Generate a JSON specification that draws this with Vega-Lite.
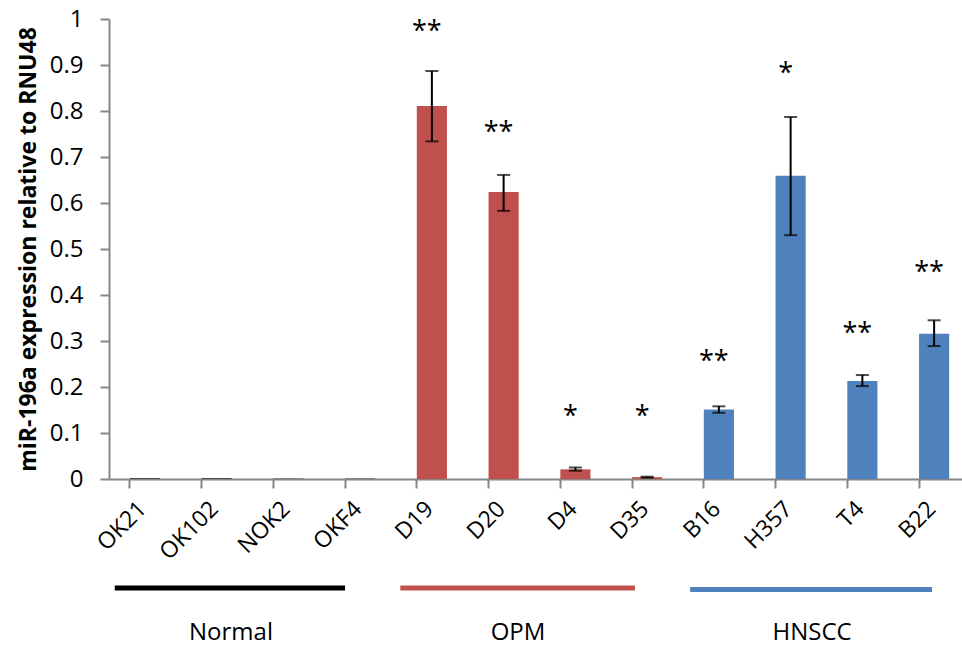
{
  "$schema": "https://vega.github.io/schema/vega-lite/v6.json",
  "width": 853,
  "height": 460,
  "autosize": {"type": "none"},
  "padding": {"left": 109, "top": 19, "right": 0, "bottom": 167},
  "config": {"view": {"stroke": null}, "font": "Open Sans", "axis": {"grid": false}},
  "datasets": {
    "bars": [
      {"name": "OK21", "group": "Normal", "val": 0.002, "lo": null, "hi": null, "star": "", "stary": null},
      {"name": "OK102", "group": "Normal", "val": 0.002, "lo": null, "hi": null, "star": "", "stary": null},
      {"name": "NOK2", "group": "Normal", "val": 0.001, "lo": null, "hi": null, "star": "", "stary": null},
      {"name": "OKF4", "group": "Normal", "val": 0.001, "lo": null, "hi": null, "star": "", "stary": null},
      {"name": "D19", "group": "OPM", "val": 0.811, "lo": 0.734, "hi": 0.887, "star": "**", "stary": 0.985},
      {"name": "D20", "group": "OPM", "val": 0.624, "lo": 0.583, "hi": 0.661, "star": "**", "stary": 0.766},
      {"name": "D4", "group": "OPM", "val": 0.021, "lo": 0.018, "hi": 0.025, "star": "*", "stary": 0.148},
      {"name": "D35", "group": "OPM", "val": 0.004, "lo": 0.003, "hi": 0.005, "star": "*", "stary": 0.148},
      {"name": "B16", "group": "HNSCC", "val": 0.151, "lo": 0.144, "hi": 0.158, "star": "**", "stary": 0.268},
      {"name": "H357", "group": "HNSCC", "val": 0.659, "lo": 0.530, "hi": 0.787, "star": "*", "stary": 0.893},
      {"name": "T4", "group": "HNSCC", "val": 0.213, "lo": 0.202, "hi": 0.226, "star": "**", "stary": 0.329},
      {"name": "B22", "group": "HNSCC", "val": 0.316, "lo": 0.289, "hi": 0.345, "star": "**", "stary": 0.46}
    ],
    "groups": [
      {"group": "Normal", "x1": 0.08, "x2": 3.29, "xc": 1.7, "ly": -0.237, "ty": -0.335},
      {"group": "OPM", "x1": 4.06, "x2": 7.33, "xc": 5.7, "ly": -0.237, "ty": -0.335},
      {"group": "HNSCC", "x1": 8.1, "x2": 11.47, "xc": 9.8, "ly": -0.24, "ty": -0.335}
    ]
  },
  "resolve": {"scale": {"x": "independent", "color": "independent"}, "axis": {"x": "independent"}},
  "layer": [
    {
      "data": {"name": "bars"},
      "mark": {"type": "bar"},
      "encoding": {
        "x": {"field": "name", "type": "nominal",
          "scale": {"type": "band", "domain": ["OK21","OK102","NOK2","OKF4","D19","D20","D4","D35","B16","H357","T4","B22"], "range": [0, 861], "paddingInner": 0.58, "paddingOuter": 0.29},
          "axis": {"orient": "bottom", "title": null, "labels": false, "bandPosition": 0, "ticks": true, "tickSize": 9, "tickWidth": 2, "tickColor": "#868686", "domain": true, "domainColor": "#868686", "domainWidth": 2}},
        "y": {"field": "val", "type": "quantitative",
          "scale": {"domain": [0, 1], "nice": false},
          "axis": {"title": "miR-196a expression relative to RNU48", "titleFont": "Open Sans", "titleFontSize": 23, "titleFontWeight": "bold", "titleColor": "#000000", "titlePadding": 9,
            "values": [0,0.1,0.2,0.3,0.4,0.5,0.6,0.7,0.8,0.9,1], "labelExpr": "datum.value == 0 ? '0' : datum.value == 1 ? '1' : format(datum.value, '.1f')",
            "labelFontSize": 24, "labelColor": "#000000", "labelPadding": 17, "tickSize": 9, "tickWidth": 2, "tickColor": "#868686", "domainColor": "#868686", "domainWidth": 2}},
        "color": {"field": "group", "type": "nominal", "legend": null,
          "scale": {"domain": ["Normal", "OPM", "HNSCC"], "range": ["#404040", "#C0504D", "#4F81BD"]}}
      }
    },
    {
      "data": {"name": "bars"},
      "mark": {"type": "rule", "strokeWidth": 2, "color": "#000000"},
      "encoding": {
        "x": {"field": "name", "type": "nominal",
          "scale": {"type": "band", "domain": ["OK21","OK102","NOK2","OKF4","D19","D20","D4","D35","B16","H357","T4","B22"], "range": [0, 861], "paddingInner": 0.58, "paddingOuter": 0.29},
          "axis": {"orient": "bottom", "title": null, "ticks": false, "domain": false, "labelAngle": -45, "labelAlign": "right", "labelBaseline": "middle", "labelFontSize": 23, "labelColor": "#000000", "labelPadding": 26, "labelOffset": -2}},
        "y": {"field": "lo", "type": "quantitative", "scale": {"domain": [0, 1], "nice": false}},
        "y2": {"field": "hi"}
      }
    },
    {
      "data": {"name": "bars"},
      "mark": {"type": "tick", "thickness": 2, "size": 13, "color": "#000000", "orient": "horizontal"},
      "encoding": {
        "x": {"field": "name", "type": "nominal",
          "scale": {"type": "band", "domain": ["OK21","OK102","NOK2","OKF4","D19","D20","D4","D35","B16","H357","T4","B22"], "range": [0, 861], "paddingInner": 0.58, "paddingOuter": 0.29},
          "axis": null},
        "y": {"field": "lo", "type": "quantitative", "scale": {"domain": [0, 1], "nice": false}}
      }
    },
    {
      "data": {"name": "bars"},
      "mark": {"type": "tick", "thickness": 2, "size": 13, "color": "#000000", "orient": "horizontal"},
      "encoding": {
        "x": {"field": "name", "type": "nominal",
          "scale": {"type": "band", "domain": ["OK21","OK102","NOK2","OKF4","D19","D20","D4","D35","B16","H357","T4","B22"], "range": [0, 861], "paddingInner": 0.58, "paddingOuter": 0.29},
          "axis": null},
        "y": {"field": "hi", "type": "quantitative", "scale": {"domain": [0, 1], "nice": false}}
      }
    },
    {
      "data": {"name": "bars"},
      "mark": {"type": "text", "fontSize": 27, "color": "#000000", "baseline": "alphabetic", "align": "center", "dy": 14, "dx": -5},
      "encoding": {
        "x": {"field": "name", "type": "nominal",
          "scale": {"type": "band", "domain": ["OK21","OK102","NOK2","OKF4","D19","D20","D4","D35","B16","H357","T4","B22"], "range": [0, 861], "paddingInner": 0.58, "paddingOuter": 0.29},
          "axis": null},
        "y": {"field": "stary", "type": "quantitative", "scale": {"domain": [0, 1], "nice": false}},
        "text": {"field": "star"}
      }
    },
    {
      "data": {"name": "groups"},
      "mark": {"type": "rule", "strokeWidth": 5},
      "encoding": {
        "x": {"field": "x1", "type": "quantitative", "scale": {"domain": [0, 12], "range": [0, 861], "nice": false, "zero": false}, "axis": null},
        "x2": {"field": "x2"},
        "y": {"field": "ly", "type": "quantitative", "scale": {"domain": [0, 1], "nice": false}},
        "color": {"field": "group", "type": "nominal", "legend": null,
          "scale": {"domain": ["Normal", "OPM", "HNSCC"], "range": ["#000000", "#C0504D", "#4F81BD"]}}
      }
    },
    {
      "data": {"name": "groups"},
      "mark": {"type": "text", "fontSize": 24, "color": "#000000", "baseline": "middle", "align": "center"},
      "encoding": {
        "x": {"field": "xc", "type": "quantitative", "scale": {"domain": [0, 12], "range": [0, 861], "nice": false, "zero": false}, "axis": null},
        "y": {"field": "ty", "type": "quantitative", "scale": {"domain": [0, 1], "nice": false}},
        "text": {"field": "group"}
      }
    }
  ]
}
